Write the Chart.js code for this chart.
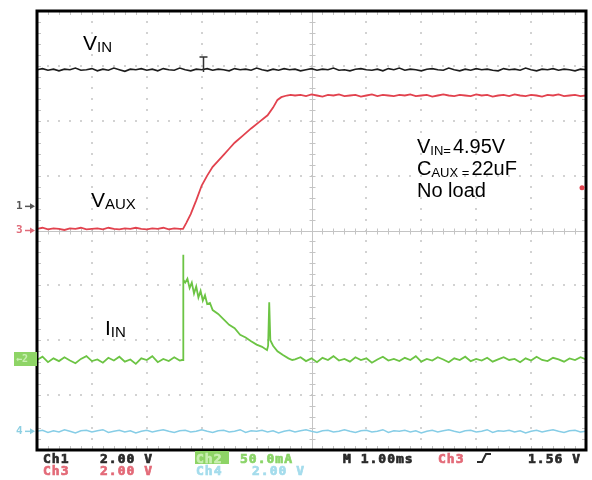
<!DOCTYPE html>
<html>
<head>
<meta charset="utf-8">
<script src="https://cdn.jsdelivr.net/npm/chart.js@4"></script>
<style>
  html, body { margin: 0; padding: 0; background: #fff; }
  #scope { display: block; }
</style>
</head>
<body>
<canvas id="scope" width="592" height="480"></canvas>
<script>
// screen is 10 x 8 divisions, traces stored in divisions from centre line
const xDivisions = 10
const yDivisions = 8
const sampleStep = 0.1

// Ch1 - V_IN, whole record
const vinLevels = [
  2.93, 2.95, 2.92, 2.94, 2.91, 2.94, 2.93, 2.96, 2.92, 2.93,
  2.95, 2.91, 2.94, 2.92, 2.96, 2.93, 2.90, 2.94, 2.93, 2.95,
  2.92, 2.94, 2.91, 2.95, 2.93, 2.92, 2.96, 2.93, 2.91, 2.94,
  2.93, 2.95, 2.92, 2.94, 2.93, 2.91, 2.95, 2.93, 2.94, 2.92,
  2.96, 2.93, 2.91, 2.94, 2.92, 2.95, 2.93, 2.94, 2.91, 2.93,
  2.95, 2.92, 2.94, 2.93, 2.96, 2.92, 2.93, 2.91, 2.94, 2.95,
  2.93, 2.92, 2.94, 2.91, 2.95, 2.93, 2.96, 2.92, 2.94, 2.93,
  2.91, 2.94, 2.95, 2.93, 2.92, 2.96, 2.93, 2.91, 2.94, 2.92,
  2.95, 2.93, 2.94, 2.92, 2.91, 2.95, 2.93, 2.94, 2.92, 2.96,
  2.93, 2.91, 2.94, 2.93, 2.95, 2.92, 2.94, 2.93, 2.91, 2.94,
  2.93
]

// Ch3 - V_AUX: before ramp (from t=0), ramp, settled (from t=4.7)
const vauxBefore = [
  0.03, 0.05, 0.02, 0.04, 0.03, 0.01, 0.04, 0.03, 0.05, 0.02,
  0.03, 0.04, 0.02, 0.05, 0.03, 0.02, 0.04, 0.03, 0.05, 0.03,
  0.02, 0.04, 0.03, 0.05, 0.02, 0.04, 0.03
]
const vauxRamp = [
  [2.66, 0.03], [2.72, 0.14], [2.80, 0.30], [2.90, 0.55], [3.00, 0.82],
  [3.10, 1.00], [3.20, 1.16], [3.30, 1.27], [3.40, 1.38], [3.50, 1.49],
  [3.60, 1.60], [3.75, 1.73], [3.90, 1.86], [4.05, 1.98], [4.20, 2.10],
  [4.30, 2.24], [4.38, 2.38], [4.45, 2.43], [4.55, 2.46], [4.62, 2.47]
]
const vauxAfterStart = 4.7
const vauxAfter = [
  2.46, 2.47, 2.45, 2.48, 2.46, 2.44, 2.47, 2.46, 2.48, 2.45,
  2.46, 2.47, 2.44, 2.46, 2.48, 2.45, 2.47, 2.46, 2.45, 2.47,
  2.46, 2.48, 2.45, 2.46, 2.47, 2.44, 2.46, 2.48, 2.46, 2.45,
  2.47, 2.46, 2.45, 2.48, 2.46, 2.47, 2.44, 2.46, 2.47, 2.45,
  2.48, 2.46, 2.45, 2.47, 2.46, 2.44, 2.47, 2.46, 2.48, 2.45,
  2.46, 2.47, 2.45, 2.46
]

// Ch2 - I_IN: idle (from t=0), inrush event, idle again (from t=4.7)
const iinBefore = [
  -2.36, -2.30, -2.40, -2.33, -2.38, -2.31, -2.37, -2.42, -2.34, -2.29,
  -2.38, -2.35, -2.41, -2.32, -2.37, -2.30, -2.39, -2.35, -2.43, -2.33,
  -2.36, -2.29, -2.40, -2.34, -2.38, -2.31, -2.37
]
const iinEvent = [
  [2.64, -2.36], [2.66, -2.36], [2.66, -0.44], [2.67, -0.90], [2.70, -0.95],
  [2.74, -0.88], [2.78, -1.05], [2.82, -0.95], [2.86, -1.15], [2.90, -1.02],
  [2.94, -1.22], [2.98, -1.10], [3.02, -1.28], [3.06, -1.18], [3.10, -1.34],
  [3.15, -1.32], [3.20, -1.45], [3.30, -1.52], [3.40, -1.62], [3.50, -1.72],
  [3.60, -1.78], [3.70, -1.90], [3.80, -1.95], [3.90, -2.02], [4.00, -2.08],
  [4.10, -2.12], [4.19, -2.18], [4.21, -2.10], [4.23, -1.31], [4.25, -2.00],
  [4.30, -2.10], [4.38, -2.20], [4.48, -2.27], [4.58, -2.33], [4.65, -2.36]
]
const iinAfterStart = 4.7
const iinAfter = [
  -2.35, -2.31, -2.38, -2.33, -2.40, -2.32, -2.36, -2.29, -2.37, -2.34,
  -2.39, -2.31, -2.36, -2.33, -2.41, -2.35, -2.30, -2.37, -2.34, -2.38,
  -2.32, -2.36, -2.29, -2.39, -2.34, -2.37, -2.31, -2.35, -2.40, -2.33,
  -2.36, -2.30, -2.38, -2.34, -2.37, -2.32, -2.39, -2.35, -2.31, -2.36,
  -2.34, -2.40, -2.33, -2.37, -2.30, -2.36, -2.38, -2.32, -2.35, -2.39,
  -2.33, -2.36, -2.31, -2.35
]

// Ch4 - unused channel, flat
const ch4Levels = [
  -3.66, -3.64, -3.68, -3.65, -3.67, -3.63, -3.66, -3.69, -3.65, -3.64,
  -3.67, -3.65, -3.63, -3.68, -3.66, -3.64, -3.67, -3.65, -3.69, -3.66,
  -3.64, -3.67, -3.65, -3.63, -3.66, -3.68, -3.65, -3.64, -3.67, -3.66,
  -3.63, -3.66, -3.68, -3.65, -3.64, -3.67, -3.66, -3.63, -3.68, -3.65,
  -3.66, -3.64, -3.67, -3.65, -3.69, -3.66, -3.64, -3.67, -3.65, -3.63,
  -3.66, -3.68, -3.65, -3.64, -3.67, -3.66, -3.63, -3.66, -3.68, -3.65,
  -3.64, -3.67, -3.66, -3.63, -3.68, -3.65, -3.66, -3.64, -3.67, -3.65,
  -3.69, -3.66, -3.64, -3.67, -3.65, -3.63, -3.66, -3.68, -3.65, -3.64,
  -3.67, -3.66, -3.63, -3.68, -3.65, -3.66, -3.64, -3.67, -3.65, -3.69,
  -3.66, -3.64, -3.67, -3.65, -3.63, -3.66, -3.68, -3.65, -3.64, -3.67,
  -3.66
]

// ground reference markers (divisions), trigger position and level
const groundLevels = { ch1: 0.44, ch3: 0.0, ch2: -2.35, ch4: -3.66 }
const triggerTime = 3.02
const triggerLevel = 0.78

const sampled = (levels, start) => levels.map((v, i) => ({ x: start + i * sampleStep, y: v }))
const pairs = (list) => list.map(([x, y]) => ({ x, y }))

const vinPoints = sampled(vinLevels, 0)
const vauxPoints = [...sampled(vauxBefore, 0), ...pairs(vauxRamp), ...sampled(vauxAfter, vauxAfterStart)]
const iinPoints = [...sampled(iinBefore, 0), ...pairs(iinEvent), ...sampled(iinAfter, iinAfterStart)]
const ch4Points = sampled(ch4Levels, 0)

const colors = {
  ch1: '#1c1c1c',
  ch2: '#6cc444',
  ch3: '#e2424e',
  ch4: '#86cde6'
}

const graticule = {
  id: 'graticule',
  beforeDatasetsDraw(chart) {
    const { ctx, chartArea: a, scales: { x, y } } = chart
    ctx.save()
    ctx.fillStyle = '#d2d2d2'
    for (let i = 1; i < xDivisions; i++) {
      if (i === xDivisions / 2) continue
      const px = Math.round(x.getPixelForValue(i))
      for (let j = 1; j < yDivisions * 5; j++) {
        const py = Math.round(y.getPixelForValue(-yDivisions / 2 + j / 5))
        ctx.fillRect(px - 1, py - 1, 2, 2)
      }
    }
    for (let i = 1; i < yDivisions; i++) {
      if (i === yDivisions / 2) continue
      const py = Math.round(y.getPixelForValue(-yDivisions / 2 + i))
      for (let j = 1; j < xDivisions * 5; j++) {
        const px = Math.round(x.getPixelForValue(j / 5))
        ctx.fillRect(px - 1, py - 1, 2, 2)
      }
    }
    // centre cross with minor ticks
    const cx = Math.round(x.getPixelForValue(xDivisions / 2)) + 0.5
    const cy = Math.round(y.getPixelForValue(0)) + 0.5
    ctx.strokeStyle = '#c4c4c4'
    ctx.lineWidth = 1
    ctx.beginPath()
    ctx.moveTo(a.left, cy); ctx.lineTo(a.right, cy)
    ctx.moveTo(cx, a.top); ctx.lineTo(cx, a.bottom)
    for (let j = 1; j < xDivisions * 5; j++) {
      const px = Math.round(x.getPixelForValue(j / 5)) + 0.5
      ctx.moveTo(px, cy - 3); ctx.lineTo(px, cy + 3)
      ctx.moveTo(px, a.top); ctx.lineTo(px, a.top + 4)
      ctx.moveTo(px, a.bottom); ctx.lineTo(px, a.bottom - 4)
    }
    for (let j = 1; j < yDivisions * 5; j++) {
      const py = Math.round(y.getPixelForValue(-yDivisions / 2 + j / 5)) + 0.5
      ctx.moveTo(cx - 3, py); ctx.lineTo(cx + 3, py)
      ctx.moveTo(a.left, py); ctx.lineTo(a.left + 4, py)
      ctx.moveTo(a.right, py); ctx.lineTo(a.right - 4, py)
    }
    ctx.stroke()
    ctx.restore()
  }
}

const drawSubLabel = (ctx, x, y, main, sub, rest, mainSize, subSize) => {
  ctx.font = `${mainSize}px "Liberation Sans", Arial, sans-serif`
  ctx.fillText(main, x, y)
  let cx = x + ctx.measureText(main).width
  ctx.font = `${subSize}px "Liberation Sans", Arial, sans-serif`
  ctx.fillText(sub, cx, y + 2)
  cx += ctx.measureText(sub).width
  if (rest) {
    ctx.font = `${mainSize}px "Liberation Sans", Arial, sans-serif`
    ctx.fillText(rest, cx + 2, y)
  }
}

const groundMarker = (ctx, label, py, color) => {
  ctx.fillStyle = color
  ctx.strokeStyle = color
  ctx.font = 'bold 11px "DejaVu Sans Mono", monospace'
  ctx.textBaseline = 'middle'
  ctx.fillText(label, 16, py)
  ctx.lineWidth = 1.5
  ctx.beginPath()
  ctx.moveTo(25, py); ctx.lineTo(33, py)
  ctx.stroke()
  ctx.beginPath()
  ctx.moveTo(35, py); ctx.lineTo(30, py - 3); ctx.lineTo(30, py + 3)
  ctx.closePath()
  ctx.fill()
}

const overlay = {
  id: 'overlay',
  afterDraw(chart) {
    const { ctx, chartArea: a, scales: { x, y } } = chart
    ctx.save()

    // trigger position marker
    const tx = Math.round(x.getPixelForValue(triggerTime)) + 0.5
    ctx.strokeStyle = '#333'
    ctx.lineWidth = 1.5
    ctx.beginPath()
    ctx.moveTo(tx - 4, 57); ctx.lineTo(tx + 4, 57)
    ctx.moveTo(tx, 57); ctx.lineTo(tx, 72)
    ctx.stroke()

    // frame
    ctx.strokeStyle = '#000'
    ctx.lineWidth = 3
    ctx.strokeRect(a.left, a.top, a.right - a.left, a.bottom - a.top)

    // ground markers at left edge
    groundMarker(ctx, '1', y.getPixelForValue(groundLevels.ch1), '#555')
    groundMarker(ctx, '3', y.getPixelForValue(groundLevels.ch3), '#e06a78')
    groundMarker(ctx, '4', y.getPixelForValue(groundLevels.ch4), '#8ccfe2')
    const g2 = Math.round(y.getPixelForValue(groundLevels.ch2))
    ctx.fillStyle = '#8ed466'
    ctx.fillRect(14, g2 - 7, 23, 14)
    ctx.fillStyle = '#c9efb2'
    ctx.font = 'bold 10px "DejaVu Sans Mono", monospace'
    ctx.fillText('←2', 16, g2)

    // trigger level marker at right edge
    const ty = y.getPixelForValue(triggerLevel)
    ctx.fillStyle = colors.ch3
    ctx.beginPath()
    ctx.arc(582, ty, 2.5, 0, Math.PI * 2)
    ctx.fill()

    // trace names and test conditions
    ctx.textBaseline = 'alphabetic'
    ctx.fillStyle = '#000'
    drawSubLabel(ctx, 83, 50, 'V', 'IN', '', 21, 15)
    drawSubLabel(ctx, 91, 207, 'V', 'AUX', '', 21, 15)
    drawSubLabel(ctx, 105, 335, 'I', 'IN', '', 21, 15)
    drawSubLabel(ctx, 417, 153, 'V', 'IN=', '4.95V', 20, 13)
    drawSubLabel(ctx, 417, 175, 'C', 'AUX =', '22uF', 20, 13)
    ctx.font = '20px "Liberation Sans", Arial, sans-serif'
    ctx.fillText('No load', 417, 197)

    // readout line under the screen
    ctx.font = 'bold 13px "DejaVu Sans Mono", monospace'
    ctx.letterSpacing = '1px'
    ctx.lineWidth = 0.7
    const readout = (text, px, py, color) => {
      ctx.fillStyle = color
      ctx.strokeStyle = color
      ctx.fillText(text, px, py)
      ctx.strokeText(text, px, py)
    }
    readout('Ch1', 43, 463, '#2a2a2a')
    readout('2.00 V', 100, 463, '#2a2a2a')
    readout('Ch3', 43, 475, '#e36a78')
    readout('2.00 V', 100, 475, '#e36a78')
    ctx.fillStyle = '#8ed466'
    ctx.fillRect(195, 451, 34, 13)
    readout('Ch2', 196, 463, '#c9efb2')
    readout('50.0mA', 240, 463, '#8ad468')
    readout('Ch4', 196, 475, '#a4dcec')
    readout('2.00 V', 252, 475, '#a4dcec')
    readout('M 1.00ms', 343, 463, '#2a2a2a')
    readout('Ch3', 438, 463, '#e36a78')
    readout('1.56 V', 528, 463, '#2a2a2a')
    ctx.strokeStyle = '#2a2a2a'
    ctx.lineWidth = 2
    ctx.beginPath()
    ctx.moveTo(477, 462); ctx.lineTo(482, 462); ctx.lineTo(486, 454); ctx.lineTo(491, 454)
    ctx.stroke()

    ctx.restore()
  }
}

const trace = (points, color, width) => ({
  data: points,
  borderColor: color,
  borderWidth: width,
  pointRadius: 0,
  tension: 0,
  fill: false
})

new Chart(document.getElementById('scope'), {
  type: 'line',
  data: {
    datasets: [
      trace(ch4Points, colors.ch4, 1.5),
      trace(iinPoints, colors.ch2, 1.8),
      trace(vauxPoints, colors.ch3, 1.8),
      trace(vinPoints, colors.ch1, 1.6)
    ]
  },
  options: {
    responsive: false,
    animation: false,
    events: [],
    layout: { padding: { left: 37, top: 11, right: 6, bottom: 30 } },
    plugins: {
      legend: { display: false },
      tooltip: { enabled: false }
    },
    scales: {
      x: { type: 'linear', min: 0, max: xDivisions, display: false },
      y: { type: 'linear', min: -yDivisions / 2, max: yDivisions / 2, display: false }
    }
  },
  plugins: [graticule, overlay]
})
</script>
</body>
</html>
